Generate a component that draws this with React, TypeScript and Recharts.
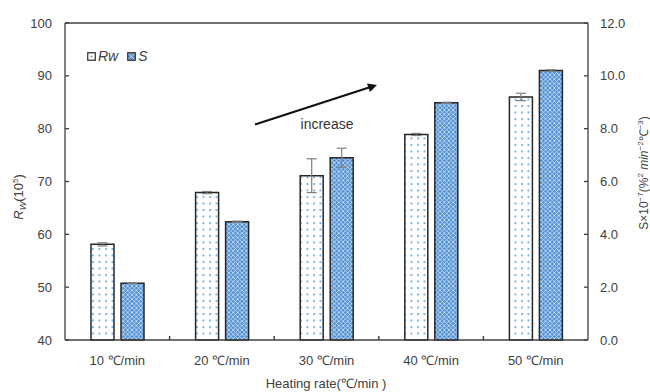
import React from "react";
import {
  Bar,
  BarChart,
  ErrorBar,
  Legend,
  ReferenceLine,
  XAxis,
  YAxis,
} from "recharts";

const categories = ["10 ℃/min", "20 ℃/min", "30 ℃/min", "40 ℃/min", "50 ℃/min"];
const rwValues = [58.1, 67.9, 71.1, 78.9, 86.0];
const rwErrors = [0.3, 0.2, 3.2, 0.2, 0.7];
const sValues = [2.15, 4.48, 6.9, 8.98, 10.2];
const sErrors = [0.02, 0.02, 0.36, 0.02, 0.03];
const leftTicks = [40, 50, 60, 70, 80, 90, 100];
const rightTicks = [0, 2, 4, 6, 8, 10, 12];

const data = categories.map((name, i) => ({
  name,
  rw: rwValues[i],
  rwErr: rwErrors[i],
  s: sValues[i],
  sErr: sErrors[i],
}));

const ink = "#404040";
const font = "'Liberation Sans', Arial, sans-serif";
const labelGap = 16;
const leftGap = 13;
const rightGap = 12;
const tickLen = 4;

// centres of the category ticks, filled in as the ticks render (left to right)
const tickCentres: number[] = [];

// category label plus a short inward tick midway to the previous category
function CategoryTick(props: any) {
  const { payload } = props;
  const x = Number(props.x);
  const y = Number(props.y);
  const i = categories.indexOf(payload.value);
  tickCentres[i] = x;
  const prev = i > 0 ? tickCentres[i - 1] : undefined;
  const edge = prev !== undefined ? (prev + x) / 2 : NaN;
  const axisY = y - labelGap;
  return (
    <g>
      {Number.isFinite(edge) && (
        <line x1={edge} x2={edge} y1={axisY} y2={axisY - tickLen} stroke={ink} strokeWidth={1.4} />
      )}
      <text x={x} y={y} dy="0.71em" textAnchor="middle" fontSize={13} fill={ink}>
        {payload.value}
      </text>
    </g>
  );
}

function LeftTick(props: any) {
  const x = Number(props.x);
  const y = Number(props.y);
  const axisX = x + leftGap;
  return (
    <g>
      <line x1={axisX} x2={axisX + tickLen} y1={y} y2={y} stroke={ink} strokeWidth={1.3} />
      <text x={x} y={y} dy="0.355em" textAnchor="end" fontSize={13} fill={ink}>
        {props.payload.value}
      </text>
    </g>
  );
}

function RightTick(props: any) {
  const x = Number(props.x);
  const y = Number(props.y);
  const axisX = x - rightGap;
  return (
    <g>
      <line x1={axisX - tickLen} x2={axisX} y1={y} y2={y} stroke={ink} strokeWidth={1.3} />
      <text x={x} y={y} dy="0.355em" textAnchor="start" fontSize={13} fill={ink}>
        {Number(props.payload.value).toFixed(1)}
      </text>
    </g>
  );
}

function LegendBox() {
  return (
    <div style={{ display: "flex", alignItems: "center", fontFamily: font, fontSize: 14, color: ink }}>
      <svg width={9} height={9} style={{ marginRight: 2 }}>
        <rect x={0.75} y={0.75} width={7.5} height={7.5} fill="#fff" stroke="#262626" strokeWidth={1.2} />
        <circle cx={4.5} cy={4.5} r={1.1} fill="#6aa6e0" />
      </svg>
      <span style={{ fontStyle: "italic", marginRight: 9 }}>Rw</span>
      <svg width={9} height={9} style={{ marginRight: 2 }}>
        <rect x={0.75} y={0.75} width={7.5} height={7.5} fill="url(#sDiamond)" stroke="#262626" strokeWidth={1.2} />
      </svg>
      <span style={{ fontStyle: "italic" }}>S</span>
    </div>
  );
}

export default function App() {
  return (
    <div style={{ position: "absolute", left: 0, top: 0, width: 650, height: 392, background: "#fff" }}>
      <svg width={0} height={0} style={{ position: "absolute" }}>
        <defs>
          <pattern id="rwDots" width={6.5} height={6.5} patternUnits="userSpaceOnUse">
            <rect width={6.5} height={6.5} fill="#ffffff" />
            <circle cx={2} cy={2} r={1.05} fill="#6aa6e0" />
          </pattern>
          <pattern id="sDiamond" width={4.4} height={4.4} patternUnits="userSpaceOnUse">
            <rect width={4.4} height={4.4} fill="#4f8fd2" />
            <path d="M0,0 L4.4,4.4 M4.4,0 L0,4.4" stroke="#dbe9f8" strokeWidth={0.8} />
          </pattern>
        </defs>
      </svg>
      <BarChart
        width={650}
        height={392}
        data={data}
        margin={{ top: 23, right: 0, left: 0, bottom: 0 }}
        barGap={7}
        barSize={23}
        style={{ fontFamily: font }}
      >
        <XAxis
          dataKey="name"
          height={52}
          tickLine={false}
          tickSize={0}
          tickMargin={labelGap}
          axisLine={{ stroke: ink, strokeWidth: 1.3 }}
          tick={(p: any) => <CategoryTick {...p} />}
          interval={0}
        />
        <YAxis
          yAxisId="left"
          domain={[40, 100]}
          ticks={leftTicks}
          width={65}
          tickSize={0}
          tickMargin={leftGap}
          tickLine={false}
          axisLine={{ stroke: ink, strokeWidth: 1.3 }}
          tick={(p: any) => <LeftTick {...p} />}
          interval={0}
        />
        <YAxis
          yAxisId="right"
          orientation="right"
          domain={[0, 12]}
          ticks={rightTicks}
          width={62}
          tickSize={0}
          tickMargin={rightGap}
          tickLine={false}
          axisLine={{ stroke: ink, strokeWidth: 1.3 }}
          tick={(p: any) => <RightTick {...p} />}
          interval={0}
        />
        <ReferenceLine yAxisId="left" y={100} stroke={ink} strokeWidth={1.3} />
        <Legend
          layout="vertical"
          align="center"
          verticalAlign="middle"
          content={() => <LegendBox />}
          wrapperStyle={{ left: 87, top: 48, width: 100 }}
        />
        <Bar
          yAxisId="left"
          dataKey="rw"
          name="Rw"
          fill="url(#rwDots)"
          stroke="#262626"
          strokeWidth={1.5}
          isAnimationActive={false}
        >
          <ErrorBar dataKey="rwErr" width={5} stroke="#7f7f7f" strokeWidth={1.2} />
        </Bar>
        <Bar
          yAxisId="right"
          dataKey="s"
          name="S"
          fill="url(#sDiamond)"
          stroke="#262626"
          strokeWidth={1.5}
          isAnimationActive={false}
        >
          <ErrorBar dataKey="sErr" width={5} stroke="#7f7f7f" strokeWidth={1.2} />
        </Bar>
      </BarChart>
      <svg
        width={650}
        height={392}
        style={{ position: "absolute", left: 0, top: 0, pointerEvents: "none", fontFamily: font }}
      >
        <line x1={255} y1={124.5} x2={369} y2={87.5} stroke="#111" strokeWidth={2.2} />
        <polygon points="377,85 367,83.5 370,92" fill="#111" />
        <text x={327} y={129} textAnchor="middle" fontSize={14} fill="#333">
          increase
        </text>
        <text x={326} y={388} textAnchor="middle" fontSize={13} fill={ink}>
          Heating rate(℃/min )
        </text>
        <text x={23} y={197} textAnchor="middle" fontSize={13} fill={ink} transform="rotate(-90 23 197)">
          <tspan fontStyle="italic">R</tspan>
          <tspan fontStyle="italic" fontSize={9} dy={3}>W</tspan>
          <tspan dy={-3}>(10</tspan>
          <tspan fontSize={8} dy={-5}>5</tspan>
          <tspan dy={5}>)</tspan>
        </text>
        <text x={648} y={173} textAnchor="middle" fontSize={12} fill={ink} transform="rotate(-90 648 173)">
          <tspan>S×10</tspan>
          <tspan fontSize={8} dy={-5}>−7</tspan>
          <tspan dy={5}>(%</tspan>
          <tspan fontSize={8} dy={-5}>2</tspan>
          <tspan dy={5} fontStyle="italic"> min</tspan>
          <tspan fontSize={8} dy={-5}>−2</tspan>
          <tspan dy={5}>℃</tspan>
          <tspan fontSize={8} dy={-5}>−3</tspan>
          <tspan dy={5}>)</tspan>
        </text>
      </svg>
    </div>
  );
}
